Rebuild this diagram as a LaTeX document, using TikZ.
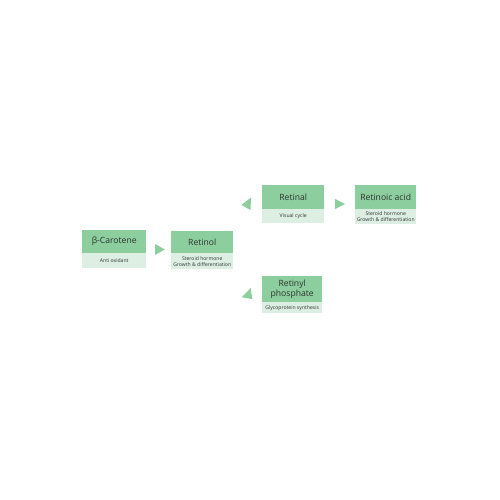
\documentclass[tikz,border=0pt]{standalone}
\usepackage{fontspec}
\setmainfont{Open Sans}
\definecolor{hdr}{RGB}{141,206,158}
\definecolor{sub}{RGB}{221,239,226}
\definecolor{txt}{RGB}{45,50,48}
\begin{document}
\begin{tikzpicture}[x=1pt,y=-1pt,
  hbox/.style={fill=hdr,inner sep=0pt,font=\fontsize{8.6}{10}\selectfont,text=txt,align=center},
  sbox/.style={fill=sub,inner sep=0pt,font=\fontsize{5.1}{5.8}\selectfont,text=txt,align=center},
  tri/.style={fill=hdr,draw=none}]
\useasboundingbox (0,0) rectangle (500,500);
\fill[white] (0,0) rectangle (500,500);
% beta-Carotene
\node[hbox,minimum width=64pt,minimum height=23pt,anchor=north west] (car) at (82,230) {β-Carotene};
\node[sbox,minimum width=64pt,minimum height=15pt,anchor=north west] (cars) at (82,253) {Anti oxidant};
% Retinol
\node[hbox,minimum width=62pt,minimum height=22pt,anchor=north west] (rol) at (171,231) {Retinol};
\node[sbox,minimum width=62pt,minimum height=16pt,anchor=north west] (rols) at (171,253) {Steroid hormone\\Growth \& differentiation};
% Retinal
\node[hbox,minimum width=62pt,minimum height=24pt,anchor=north west] (ral) at (262,185) {Retinal};
\node[sbox,minimum width=62pt,minimum height=14pt,anchor=north west] (rals) at (262,209) {Visual cycle};
% Retinoic acid
\node[hbox,minimum width=61pt,minimum height=24pt,anchor=north west] (ra) at (355,185) {Retinoic acid};
\node[sbox,minimum width=61pt,minimum height=15pt,anchor=north west] (ras) at (355,209) {Steroid hormone\\Growth \& differentiation};
% Retinyl phosphate
\node[hbox,minimum width=60pt,minimum height=26pt,anchor=north west] (rp) at (262,276) {Retinyl\\phosphate};
\node[sbox,minimum width=60pt,minimum height=11pt,anchor=north west] (rps) at (262,302) {Glycoprotein synthesis};
% arrowheads
\fill[tri] (155,244) -- (165,249.5) -- (155,255) -- cycle;
\fill[tri] (335,199) -- (345,204) -- (335,209) -- cycle;
\fill[tri] (251,197.5) -- (241.5,205) -- (250.5,210) -- cycle;
\fill[tri] (250.7,288) -- (241.7,297.3) -- (252.3,299) -- cycle;
\end{tikzpicture}
\end{document}
